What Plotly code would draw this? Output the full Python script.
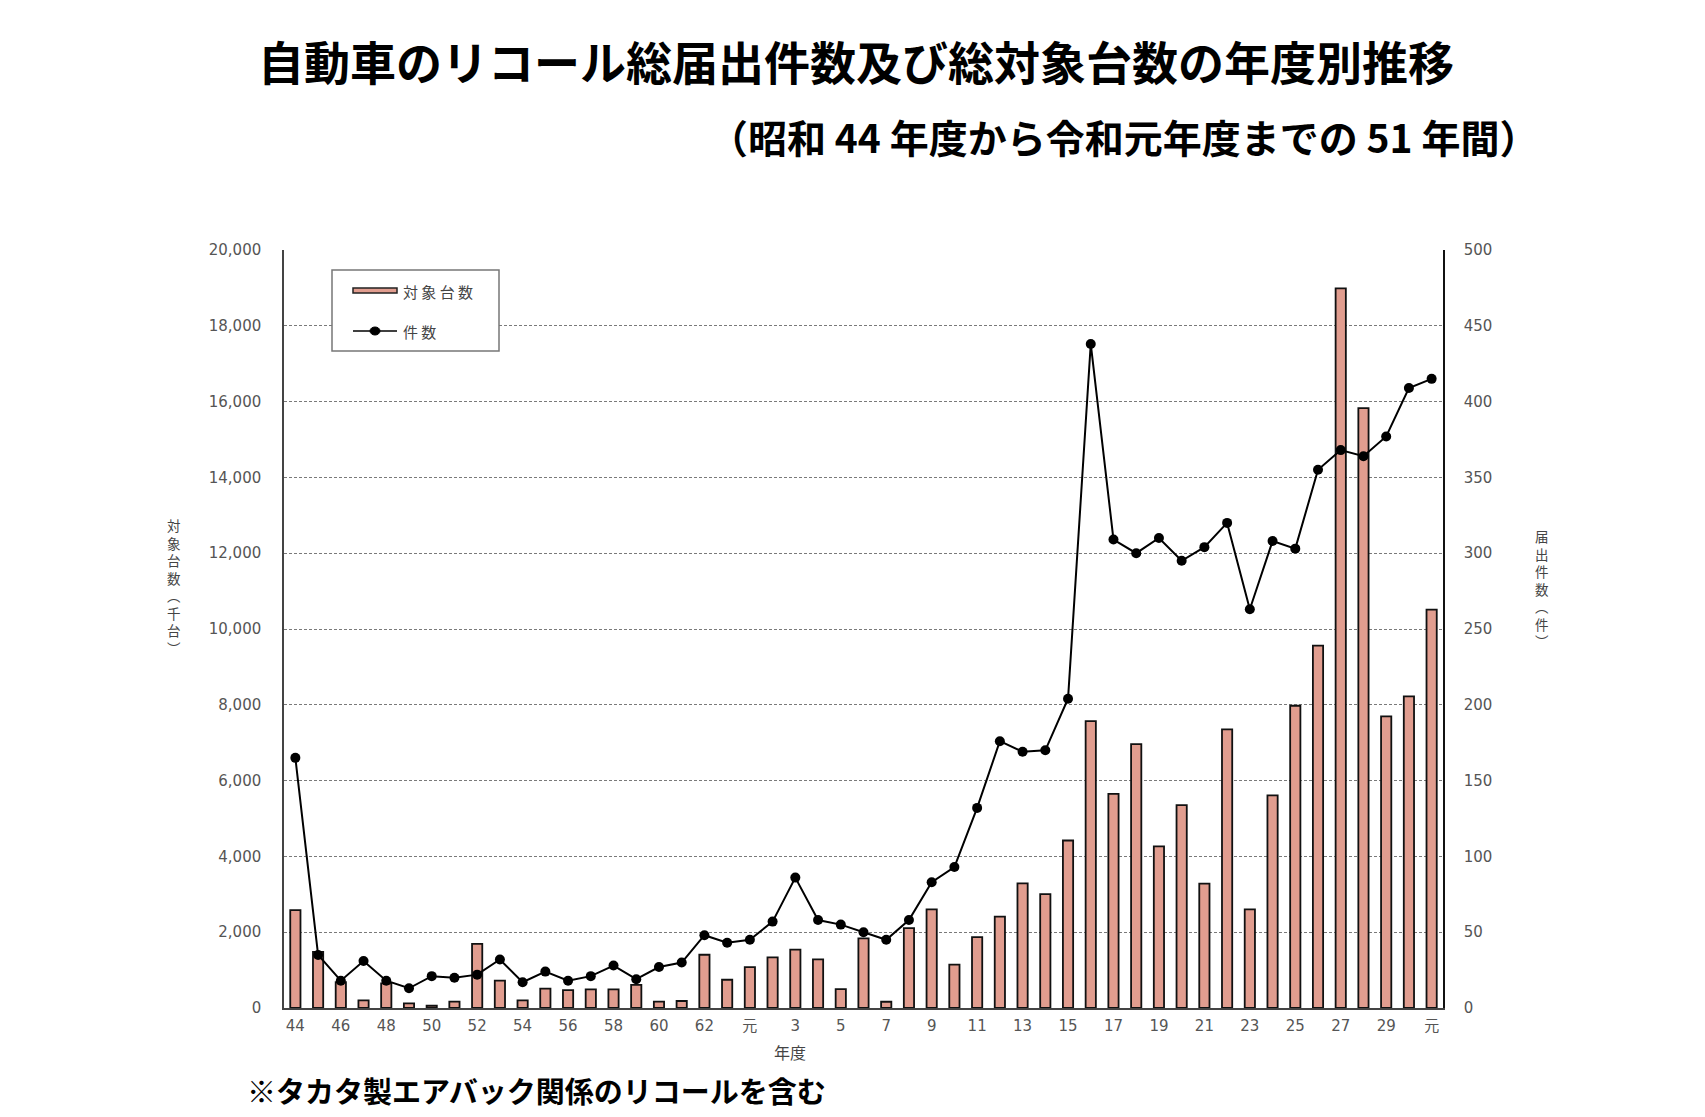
import plotly.graph_objects as go

# ---- data ----
years = ["44", "45", "46", "47", "48", "49", "50", "51", "52", "53", "54", "55", "56", "57", "58", "59",
         "60", "61", "62", "63",
         "元", "2", "3", "4", "5", "6", "7", "8", "9", "10", "11", "12", "13", "14", "15", "16", "17",
         "18", "19", "20", "21", "22", "23", "24", "25", "26", "27", "28", "29", "30",
         "元"]
units_k = [2580, 1480, 680, 200, 650, 120, 60, 170, 1690, 720, 200, 510, 470, 490, 490, 610,
           170, 185, 1405, 745,
           1080, 1335, 1540, 1285, 500, 1835, 165, 2110, 2600, 1145, 1870, 2410, 3290, 3005, 4420,
           7570, 5650, 6960, 4265, 5355, 3280, 7350, 2600, 5610, 7975, 9560, 18990, 15830, 7695,
           8220, 10510]
cases = [165, 35, 18, 31, 18, 13, 21, 20, 22, 32, 17, 24, 18, 21, 28, 19,
         27, 30, 48, 43,
         45, 57, 86, 58, 55, 50, 45, 58, 83, 93, 132, 176, 169, 170, 204,
         438, 309, 300, 310, 295, 304, 320, 263, 308, 303, 355, 368, 364, 377,
         409, 415]
left_ticks = list(range(0, 20001, 2000))
right_ticks = list(range(0, 501, 50))
bar_name = "対象台数"
line_name = "件数"

idx = list(range(len(years)))
tick_idx = idx[::2]
tick_txt = [years[i] for i in tick_idx]

# ---- geometry helpers (pixel -> paper) ----
W, H = 1705, 1117
L, R, T, B = 284, 1443, 250, 1008
def px(x):
    return (x - L) / (R - L)
def py(y):
    return (B - y) / (B - T)

BAR_FILL = "#E19D8F"

fig = go.Figure()
fig.add_trace(go.Bar(
    x=idx, y=units_k, name=bar_name, width=0.45,
    marker=dict(color=BAR_FILL, line=dict(color="#111111", width=1.8)),
))
fig.add_trace(go.Scatter(
    x=idx, y=cases, name=line_name, yaxis="y2", mode="lines+markers",
    line=dict(color="#000000", width=2),
    marker=dict(color="#000000", size=10),
))

tickfont = dict(family="DejaVu Sans, sans-serif", size=15, color="#555555")

fig.update_layout(
    width=W, height=H,
    margin=dict(l=L, r=W - R, t=T, b=H - B),
    paper_bgcolor="white", plot_bgcolor="white",
    showlegend=False,
    xaxis=dict(
        range=[-0.5, len(years) - 0.5],
        tickmode="array", tickvals=tick_idx, ticktext=tick_txt,
        tickfont=dict(family="DejaVu Sans, Noto Sans CJK JP", size=15, color="#555555"),
        showgrid=False, zeroline=False,
        showline=True, linecolor="#444444", linewidth=1.5,
        ticks="", ticklabelstandoff=3,
    ),
    yaxis=dict(
        range=[0, 20000], tickvals=left_ticks,
        tickformat=",d", tickfont=tickfont,
        showgrid=True, gridcolor="#7a7a7a", gridwidth=1, griddash="3px,2px",
        zeroline=False,
        showline=True, linecolor="#444444", linewidth=1.5,
        ticks="", ticklabelstandoff=18,
    ),
    yaxis2=dict(
        range=[0, 500], tickvals=right_ticks, overlaying="y", side="right",
        tickfont=tickfont, showgrid=False, zeroline=False,
        showline=True, linecolor="#111111", linewidth=1.5,
        ticks="", ticklabelstandoff=16,
    ),
)

# ---- custom legend box (paper coords) ----
shapes = [
    dict(type="rect", xref="paper", yref="paper",
         x0=px(332), x1=px(499), y0=py(351), y1=py(270),
         line=dict(color="#777777", width=1.5), fillcolor="white", layer="above"),
    dict(type="rect", xref="paper", yref="paper",
         x0=px(353), x1=px(397), y0=py(293), y1=py(288),
         line=dict(color="#222222", width=1.5), fillcolor=BAR_FILL, layer="above"),
    dict(type="line", xref="paper", yref="paper",
         x0=px(353), x1=px(397), y0=py(331), y1=py(331),
         line=dict(color="#000000", width=1.5), layer="above"),
    dict(type="circle", xref="paper", yref="paper",
         x0=px(370), x1=px(380), y0=py(335), y1=py(327),
         line=dict(color="#000000", width=1), fillcolor="#000000", layer="above"),
]
fig.update_layout(shapes=shapes)

ann = []
ann.append(dict(text=" ".join(bar_name), x=px(401), y=py(291), xref="paper", yref="paper",
                showarrow=False, xanchor="left", yanchor="middle",
                font=dict(family="Noto Sans CJK JP", size=15, color="#444444")))
ann.append(dict(text=" ".join(line_name), x=px(401), y=py(331), xref="paper", yref="paper",
                showarrow=False, xanchor="left", yanchor="middle",
                font=dict(family="Noto Sans CJK JP", size=15, color="#444444")))
ann.append(dict(text="<b>自動車のリコール総届出件数及び総対象台数の年度別推移</b>",
                x=px(856), y=py(60), xref="paper", yref="paper", showarrow=False,
                xanchor="center", yanchor="middle",
                font=dict(family="Noto Sans CJK JP", size=46, color="#000000")))
ann.append(dict(text="<b>（昭和 44 年度から令和元年度までの 51 年間）</b>",
                x=px(1123), y=py(136), xref="paper", yref="paper", showarrow=False,
                xanchor="center", yanchor="middle",
                font=dict(family="Noto Sans CJK JP", size=39, color="#000000")))
ann.append(dict(text="<b>※タカタ製エアバック関係のリコールを含む</b>",
                x=px(245), y=py(1090), xref="paper", yref="paper", showarrow=False,
                xanchor="left", yanchor="middle",
                font=dict(family="Noto Sans CJK JP", size=29, color="#000000")))
ann.append(dict(text="年度",
                x=px(790), y=py(1052), xref="paper", yref="paper", showarrow=False,
                xanchor="center", yanchor="middle",
                font=dict(family="Noto Sans CJK JP", size=16, color="#444444")))
ann.append(dict(text="<br>".join(list("対象台数") + ["︵", "千", "台", "︶"]),
                x=px(174), y=py(586), xref="paper", yref="paper", showarrow=False,
                xanchor="center", yanchor="middle",
                font=dict(family="Noto Sans CJK JP", size=13.5, color="#444444")))
ann.append(dict(text="<br>".join(list("届出件数") + ["︵", "件", "︶"]),
                x=px(1542), y=py(588), xref="paper", yref="paper", showarrow=False,
                xanchor="center", yanchor="middle",
                font=dict(family="Noto Sans CJK JP", size=13.5, color="#444444")))
fig.update_layout(annotations=ann)

fig.write_html("out.html")
